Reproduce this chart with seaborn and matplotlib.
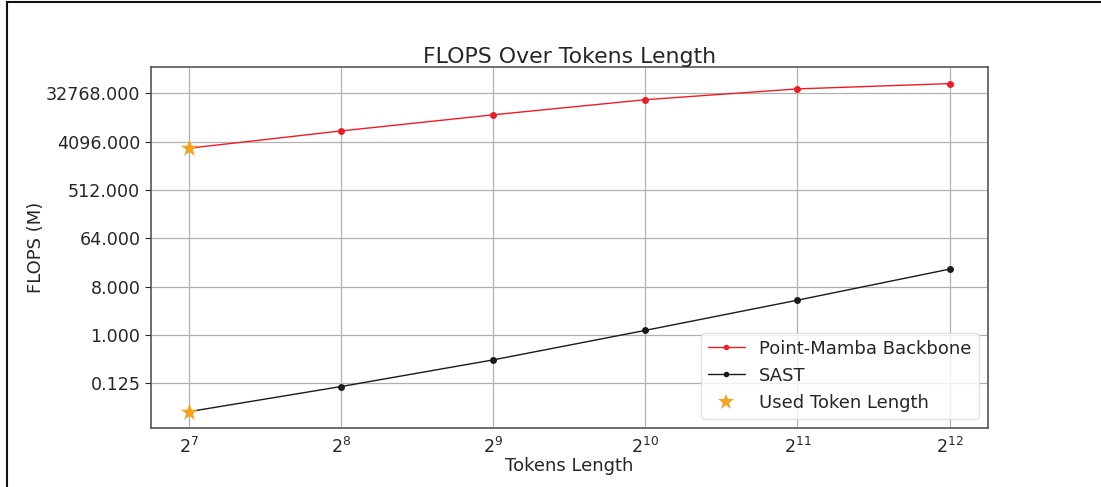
import matplotlib
matplotlib.use("Agg")
import matplotlib.pyplot as plt
import matplotlib.ticker as mticker
from matplotlib.patches import Rectangle
from matplotlib.lines import Line2D
import seaborn as sns
import pandas as pd

# Token lengths and FLOPS (in millions)
tokens = [128, 256, 512, 1024, 2048, 4096]
backbone_flops = [3082, 6480, 12960, 24830, 39500, 49600]
sast_flops = [0.037, 0.109, 0.343, 1.22, 4.47, 17.0]
used_token = 128
y_ticks = [0.125, 1, 8, 64, 512, 4096, 32768]

sns.set_style("ticks", {"axes.grid": True, "grid.color": "#b0b0b0",
                        "axes.edgecolor": "#333333"})
plt.rcParams["font.family"] = ["DejaVu Sans"]

df = pd.DataFrame({
    "tokens": tokens * 2,
    "flops": backbone_flops + sast_flops,
    "model": ["Point-Mamba Backbone"] * len(tokens) + ["SAST"] * len(tokens),
})

fig = plt.figure(figsize=(11.01, 4.87), dpi=100)
ax = fig.add_axes([0.137, 0.121, 0.760, 0.741])

sns.lineplot(data=df, x="tokens", y="flops", hue="model",
             palette={"Point-Mamba Backbone": "#ee1c25", "SAST": "#1a1a1a"},
             marker="o", markersize=5, markeredgewidth=0, linewidth=1,
             ax=ax, legend=False)

used_idx = tokens.index(used_token)
ax.scatter([used_token, used_token],
           [backbone_flops[used_idx], sast_flops[used_idx]],
           marker="*", s=170, color="#f7a21b", zorder=5, linewidths=0)

ax.set_xscale("log", base=2)
ax.set_yscale("log", base=2)
ax.set_xticks(tokens)
ax.xaxis.set_major_formatter(mticker.LogFormatterMathtext(base=2))
ax.xaxis.set_minor_locator(mticker.NullLocator())
ax.yaxis.set_major_locator(mticker.FixedLocator(y_ticks))
ax.yaxis.set_major_formatter(mticker.FormatStrFormatter("%.3f"))
ax.yaxis.set_minor_locator(mticker.NullLocator())

ax.tick_params(axis="both", labelsize=12.6, colors="#262626", length=4)
ax.tick_params(axis="x", length=0, pad=6)
ax.grid(True, color="#b0b0b0", linewidth=0.9)
ax.set_axisbelow(True)
for s in ax.spines.values():
    s.set_color("#555555")
    s.set_linewidth(1.2)

ax.set_title("FLOPS Over Tokens Length", fontsize=15.8, color="#262626", pad=3)
ax.set_xlabel("Tokens Length", fontsize=13, color="#262626", labelpad=0)
ax.set_ylabel("FLOPS (M)", fontsize=13, color="#262626", labelpad=1)

handles = [
    Line2D([], [], color="#ee1c25", marker="o", markersize=4, markeredgewidth=0, linewidth=1),
    Line2D([], [], color="#1a1a1a", marker="o", markersize=4, markeredgewidth=0, linewidth=1),
    Line2D([], [], color="#f7a21b", marker="*", markersize=12, markeredgewidth=0, linestyle="none"),
]
ax.legend(handles, ["Point-Mamba Backbone", "SAST", "Used Token Length"],
          loc="lower right", fontsize=13, frameon=True, framealpha=0.8,
          edgecolor="#dddddd", borderaxespad=0.5, handlelength=2.0,
          labelcolor="#262626")

# outer frame of the figure
fig.patches.append(Rectangle((7 / 1101, -0.5), 2.0, 1.5 - 2 / 487,
                             transform=fig.transFigure, fill=False,
                             edgecolor="#111111", linewidth=1.5, clip_on=False))

fig.savefig("out.png", dpi=100)
